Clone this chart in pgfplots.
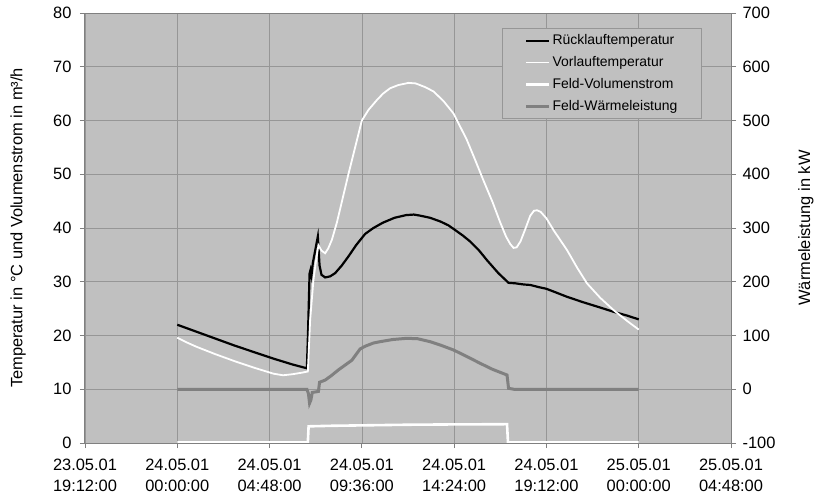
\documentclass[border=0pt]{standalone}
\usepackage{fontspec}
\setmainfont{Liberation Sans}
\usepackage{pgfplots}
\pgfplotsset{compat=1.18}
\definecolor{plotbg}{RGB}{192,192,192}
\definecolor{gridc}{RGB}{150,150,150}
\definecolor{powc}{RGB}{128,128,128}

\pgfplotsset{
  base/.style={
    scale only axis, width=646bp, height=430bp,
    at={(0,0)}, anchor=south west,
    xmin=-4.8, xmax=28.8,
    tick align=outside, major tick length=5bp,
    tick style={powc, line width=0.8bp},
    ticklabel style={font=\fontsize{16.5}{20.5}\selectfont},
    label style={font=\fontsize{16.5}{20}\selectfont},
    /pgf/number format/assume math mode=true,
    axis line style={powc, line width=1bp},
  }
}

\begin{document}
\begin{tikzpicture}
\path[use as bounding box] (-85bp,-54bp) rectangle (735bp,443bp);

\begin{axis}[base,
  ymin=0, ymax=80, ytick={0,10,...,80},
  xtick={-4.8,0,4.8,9.6,14.4,19.2,24,28.8},
  xticklabels={{23.05.01\\19:12:00},{24.05.01\\00:00:00},{24.05.01\\04:48:00},{24.05.01\\09:36:00},{24.05.01\\14:24:00},{24.05.01\\19:12:00},{25.05.01\\00:00:00},{25.05.01\\04:48:00}},
  xticklabel style={align=center, yshift=-8bp},
  yticklabel style={xshift=-5bp},
  xtick pos=bottom, ytick pos=left,
  grid=major, major grid style={gridc, line width=0.6bp},
  axis background/.style={fill=plotbg},
  ylabel={Temperatur in °C und Volumenstrom in m³/h},
  ylabel style={at={(axis description cs:-0.1037,0.5)}, anchor=center},
]
% Ruecklauftemperatur
\addplot[black, line width=2.2bp] coordinates {
(0,22.0)(1,20.7)(2,19.4)(3,18.1)(4,16.9)(5,15.7)(6,14.6)(6.74,13.9)(6.80,20.5)(6.88,31.5)(6.93,32.2)(6.98,31.2)(7.05,33.5)(7.31,38.4)(7.40,33.0)(7.50,31.3)(7.69,30.8)(7.95,31.0)(8.21,31.6)(8.55,33.0)(8.90,34.7)(9.3,36.8)(9.77,38.9)(10.2,40.0)(10.7,41.0)(11.3,41.9)(11.9,42.4)(12.3,42.5)(12.63,42.3)(13.15,41.9)(13.69,41.2)(14.1,40.5)(14.46,39.6)(14.85,38.6)(15.23,37.5)(15.7,35.8)(16.11,34.0)(16.7,31.6)(17.23,29.8)(17.6,29.7)(18.0,29.5)(18.36,29.4)(18.8,29.0)(19.19,28.7)(19.7,28.0)(20.27,27.2)(21.1,26.2)(22.0,25.2)(22.7,24.4)(23.4,23.7)(24.0,23.0)
};
% Vorlauftemperatur
\addplot[white, line width=1.8bp] coordinates {
(0,19.6)(0.5,18.7)(1,17.9)(2,16.5)(3,15.2)(4,14.0)(5,12.9)(5.5,12.6)(6,12.8)(6.5,13.1)(6.79,13.3)(6.91,22.9)(7.08,30.3)(7.20,33.5)(7.34,36.8)(7.5,35.8)(7.69,35.3)(7.85,36.2)(8.04,37.8)(8.30,41.0)(8.60,45.5)(8.90,50.0)(9.25,55.0)(9.6,60.0)(9.95,62.0)(10.38,63.8)(10.7,65.0)(11.07,66.0)(11.5,66.6)(12.03,67.0)(12.4,66.9)(12.9,66.2)(13.33,65.4)(13.85,63.6)(14.37,61.3)(15.06,56.4)(15.5,52.6)(15.93,48.8)(16.4,44.8)(16.80,41.0)(17.1,38.4)(17.32,37.0)(17.49,36.3)(17.65,36.4)(17.85,37.5)(18.1,39.8)(18.36,42.3)(18.55,43.2)(18.71,43.3)(18.9,43.0)(19.2,41.8)(19.57,39.6)(20.27,35.9)(20.8,32.6)(21.31,29.7)(22.0,27.0)(22.70,24.7)(23.4,22.7)(24.0,21.1)
};
% Feld-Volumenstrom
\addplot[white, line width=2.6bp] coordinates {
(0,0.12)(6.79,0.12)(6.83,3.1)(8,3.2)(10,3.3)(12,3.4)(14,3.45)(17.15,3.5)(17.2,0.12)(24,0.12)
};
\end{axis}

\begin{axis}[base,
  ymin=-100, ymax=700, ytick={-100,0,...,700},
  axis x line=none, axis y line*=right, ytick pos=right,
  yticklabel style={xshift=3bp},
  ylabel={Wärmeleistung in kW},
  ylabel style={at={(axis description cs:1.116,0.5)}, anchor=center, rotate=0},
  legend cell align=left,
  legend style={at={(0.9546,0.9644)}, anchor=north east,
    fill=plotbg, draw=gridc, line width=0.6bp,
    font=\fontsize{14}{16}\selectfont,
    inner xsep=22bp, inner ysep=3bp, row sep=3.9bp,
    nodes={text height=11bp, text depth=3bp, inner sep=2bp}},
  legend image code/.code={\draw[#1] (0bp,0bp) -- (23bp,0bp);},
]
\addlegendimage{black, line width=2.2bp}
\addlegendentry{Rücklauftemperatur}
\addlegendimage{white, line width=1.8bp}
\addlegendentry{Vorlauftemperatur}
\addlegendimage{white, line width=2.6bp}
\addlegendentry{Feld-Volumenstrom}
% Feld-Waermeleistung
\addplot[powc, line width=3bp] coordinates {
(0,0)(6.74,0)(6.82,-8)(6.88,-26)(6.95,-20)(7.02,-6)(7.34,-4)(7.40,13)(7.69,17)(8.0,25)(8.38,36)(9.08,54)(9.51,75)(9.77,80)(10.2,86)(10.55,88.5)(11.2,92.5)(11.94,94.8)(12.5,94)(13.15,88.5)(13.7,82)(14.37,73)(15.0,62)(15.75,48.3)(16.4,37)(17.15,26.5)(17.23,1.8)(17.5,0)(24,0)
};
\addlegendentry{Feld-Wärmeleistung}
\end{axis}
\end{tikzpicture}
\end{document}
